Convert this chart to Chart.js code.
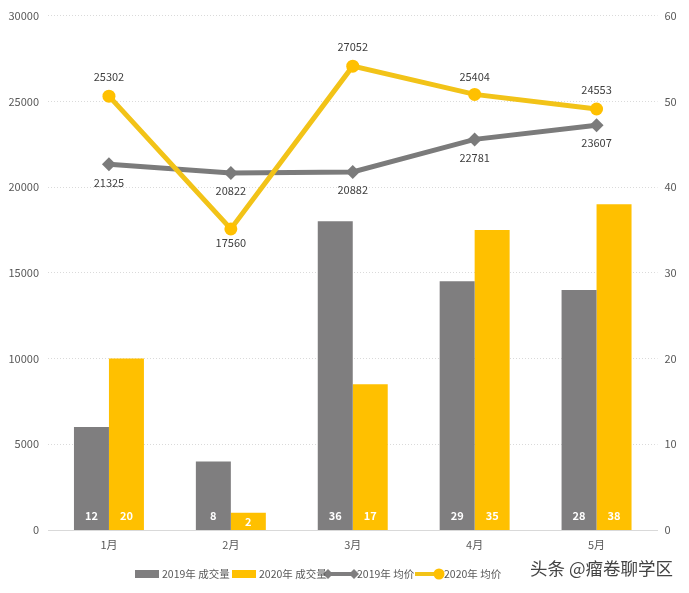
<!DOCTYPE html>
<html>
<head>
<meta charset="utf-8">
<style>
  html, body { margin: 0; padding: 0; background: #fff; }
  canvas { display: block; }
</style>
<script src="https://cdn.jsdelivr.net/npm/chart.js@4/dist/chart.umd.min.js"></script>
</head>
<body>
<canvas id="chart-1" width="689" height="593"></canvas>
<script>
const months = ['1月', '2月', '3月', '4月', '5月'];
const deals2019 = [12, 8, 36, 29, 28];
const deals2020 = [20, 2, 17, 35, 38];
const price2019 = [21325, 20822, 20882, 22781, 23607];
const price2020 = [25302, 17560, 27052, 25404, 24553];
const seriesNames = ['2019年 成交量', '2020年 成交量', '2019年 均价', '2020年 均价'];
const watermark = '头条 @瘤卷聊学区';

const GRAY = '#7f7e7f';
const YELLOW = '#ffc000';
const LINE_YELLOW = '#f2c318';
const TEXT = '#595959';
const FONT = '"Noto Sans CJK SC", "Noto Sans", sans-serif';

// label offset from the point, in px (negative = above)
const offsets2019 = [18, 18, 18, 18, 18];
const offsets2020 = [-19, 14, -19, -18, -19];

const labelsPlugin = {
  id: 'labels',
  afterDatasetsDraw(chart) {
    const ctx = chart.ctx;
    const base = chart.scales.y1.getPixelForValue(0);
    ctx.save();
    ctx.textAlign = 'center';
    ctx.textBaseline = 'middle';

    // bar values, white, inside base
    ctx.font = 'bold 11px ' + FONT;
    ctx.fillStyle = '#fff';
    [0, 1].forEach(i => {
      chart.getDatasetMeta(i).data.forEach((bar, j) => {
        const h = base - bar.y;
        const y = h < 28 ? base - h / 2 : base - 14;
        ctx.fillText(chart.data.datasets[i].data[j], bar.x, y);
      });
    });

    // line values
    ctx.font = '11px ' + FONT;
    ctx.fillStyle = '#404040';
    [[2, offsets2019], [3, offsets2020]].forEach(([i, offs]) => {
      chart.getDatasetMeta(i).data.forEach((pt, j) => {
        ctx.fillText(chart.data.datasets[i].data[j], pt.x, pt.y + offs[j]);
      });
    });
    ctx.restore();
  }
};

const legendPlugin = {
  id: 'bottomLegend',
  afterDraw(chart) {
    const ctx = chart.ctx;
    const y = 574;
    ctx.save();
    ctx.textBaseline = 'middle';
    ctx.textAlign = 'left';
    ctx.font = '10.5px ' + FONT;

    ctx.fillStyle = GRAY;
    ctx.fillRect(135, y - 4, 24, 8);
    ctx.fillStyle = YELLOW;
    ctx.fillRect(232, y - 4, 24, 8);

    ctx.strokeStyle = GRAY;
    ctx.lineWidth = 4;
    ctx.beginPath(); ctx.moveTo(328, y); ctx.lineTo(354, y); ctx.stroke();
    ctx.fillStyle = GRAY;
    [328, 354].forEach(x => {
      ctx.beginPath();
      ctx.moveTo(x - 5, y); ctx.lineTo(x, y - 5); ctx.lineTo(x + 5, y); ctx.lineTo(x, y + 5);
      ctx.closePath(); ctx.fill();
    });

    ctx.strokeStyle = LINE_YELLOW;
    ctx.beginPath(); ctx.moveTo(415, y); ctx.lineTo(439, y); ctx.stroke();
    ctx.fillStyle = YELLOW;
    ctx.beginPath(); ctx.arc(439, y, 5.5, 0, Math.PI * 2); ctx.fill();

    ctx.fillStyle = TEXT;
    [162, 259, 357, 444].forEach((x, i) => ctx.fillText(seriesNames[i], x, y));

    // watermark on top of everything
    ctx.font = '17.5px ' + FONT;
    ctx.lineWidth = 3;
    ctx.strokeStyle = 'rgba(255,255,255,0.85)';
    ctx.strokeText(watermark, 530, 568);
    ctx.fillStyle = '#444';
    ctx.fillText(watermark, 530, 568);
    ctx.restore();
  }
};

const ctx = document.getElementById('chart-1').getContext('2d');
const chart = new Chart(ctx, {
  type: 'bar',
  plugins: [labelsPlugin, legendPlugin],
  data: {
    labels: months,
    datasets: [
      { label: seriesNames[0], data: deals2019, yAxisID: 'y1', backgroundColor: GRAY, order: 2,
        categoryPercentage: 0.574, barPercentage: 1 },
      { label: seriesNames[1], data: deals2020, yAxisID: 'y1', backgroundColor: YELLOW, order: 2,
        categoryPercentage: 0.574, barPercentage: 1 },
      { type: 'line', label: seriesNames[2], data: price2019, yAxisID: 'y', order: 1,
        borderColor: '#7b7b7b', borderWidth: 5, tension: 0,
        pointStyle: 'rectRot', pointRadius: 7, pointBackgroundColor: '#7b7b7b', pointBorderWidth: 0 },
      { type: 'line', label: seriesNames[3], data: price2020, yAxisID: 'y', order: 0,
        borderColor: LINE_YELLOW, borderWidth: 5, tension: 0,
        pointStyle: 'circle', pointRadius: 6.5, pointBackgroundColor: YELLOW, pointBorderWidth: 0 }
    ]
  },
  options: {
    responsive: false,
    animation: false,
    devicePixelRatio: 1,
    layout: { padding: { top: 15, left: 0, right: 0, bottom: 0 } },
    plugins: { legend: { display: false }, tooltip: { enabled: false } },
    scales: {
      x: {
        grid: { display: false, drawTicks: false },
        border: { color: '#d9d9d9', width: 1 },
        ticks: { color: TEXT, font: { size: 11, family: FONT }, padding: 8, maxRotation: 0 },
        afterFit(scale) { scale.height = 63; }
      },
      y: {
        position: 'left',
        min: 0,
        max: 30000,
        border: { display: false, dash: [1, 2] },
        grid: { color: '#dadada', drawTicks: false },
        ticks: { stepSize: 5000, color: TEXT, font: { size: 11, family: FONT }, padding: 9, callback: v => String(v) },
        afterFit(scale) { scale.width = 48; }
      },
      y1: {
        position: 'right',
        min: 0,
        max: 60,
        border: { display: false },
        grid: { display: false, drawTicks: false },
        ticks: { stepSize: 10, color: TEXT, font: { size: 11, family: FONT }, padding: 7 },
        afterFit(scale) { scale.width = 31.5; }
      }
    }
  }
});
</script>
</body>
</html>
